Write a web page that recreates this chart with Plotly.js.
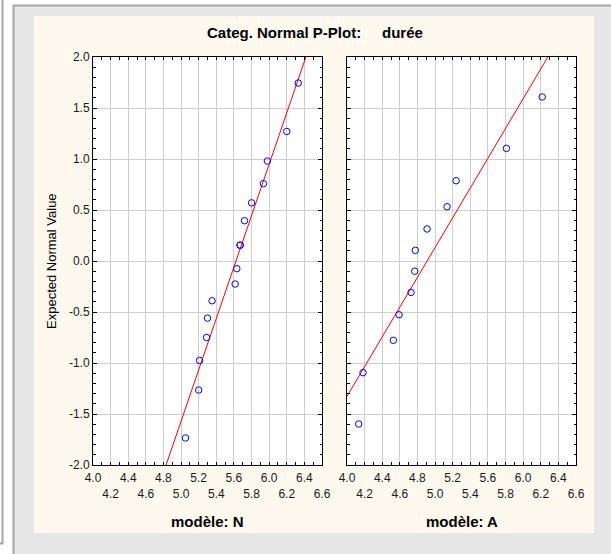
<!DOCTYPE html>
<html>
<head>
<meta charset="utf-8">
<script src="https://cdn.plot.ly/plotly-3.0.1.min.js"></script>
<style>html,body{margin:0;padding:0;background:#fff;}#chart{width:611px;height:554px;}</style>
</head>
<body>
<div id="chart"></div>
<script>
// ---- data ----
const titleText = "Categ. Normal P-Plot:\u00a0\u00a0\u00a0\u00a0\u00a0durée";
const panelLabels = ["modèle: N", "modèle: A"];
const yTitle = "Expected Normal Value";

// modèle: N  (observed value, expected normal value)
const nX = [6.33, 6.20, 5.98, 5.935, 5.80, 5.72, 5.67, 5.67, 5.633, 5.614, 5.352, 5.30, 5.29, 5.21, 5.20, 5.05];
const nY = [1.745, 1.27, 0.98, 0.758, 0.57, 0.395, 0.155, 0.155, -0.075, -0.226, -0.39, -0.56, -0.75, -0.975, -1.265, -1.735];
const nLineX = [4.83, 6.417];
const nLineY = [-2.0, 2.0];

// modèle: A
const aX = [6.216, 5.81, 5.239, 5.136, 4.909, 4.776, 4.769, 4.727, 4.591, 4.526, 4.182, 4.133];
const aY = [1.608, 1.104, 0.787, 0.532, 0.314, 0.104, -0.10, -0.308, -0.527, -0.778, -1.095, -1.598];
const aLineX = [4.0, 6.28];
const aLineY = [-1.327, 2.0];

// axis ticks
const xTickVals = [4.0, 4.2, 4.4, 4.6, 4.8, 5.0, 5.2, 5.4, 5.6, 5.8, 6.0, 6.2, 6.4, 6.6];
const xTickText = ["4.0", "<br>4.2", "4.4", "<br>4.6", "4.8", "<br>5.0", "5.2", "<br>5.4", "5.6", "<br>5.8", "6.0", "<br>6.2", "6.4", "<br>6.6"];
const yTickVals = [-2.0, -1.5, -1.0, -0.5, 0.0, 0.5, 1.0, 1.5, 2.0];
const yTickText = ["-2.0", "-1.5", "-1.0", "-0.5", "0.0", "0.5", "1.0", "1.5", "2.0"];

// ---- layout helpers (pixel -> paper) ----
const W = 611, H = 554;
const px = x => x / W;
const py = y => 1 - y / H;
const FONT = "Liberation Sans, Arial, sans-serif";

const markerStyle = {symbol: "circle-open", size: 6.5, color: "#0000ff", line: {width: 1, color: "#0000ff"}};
const lineStyle = {color: "#ff0000", width: 1};

const traces = [
  {x: nLineX, y: nLineY, type: "scatter", mode: "lines", line: lineStyle, xaxis: "x", yaxis: "y", hoverinfo: "skip"},
  {x: nX, y: nY, type: "scatter", mode: "markers", marker: markerStyle, xaxis: "x", yaxis: "y"},
  {x: aLineX, y: aLineY, type: "scatter", mode: "lines", line: lineStyle, xaxis: "x2", yaxis: "y2", hoverinfo: "skip"},
  {x: aX, y: aY, type: "scatter", mode: "markers", marker: markerStyle, xaxis: "x2", yaxis: "y2"}
];

function xAxis(domain, anchor) {
  return {
    domain: domain, anchor: anchor, range: [4.0, 6.6],
    tickmode: "array", tickvals: xTickVals, ticktext: xTickText, tickangle: 0, ticklabelstandoff: 2,
    ticks: "inside", ticklen: 3, tickcolor: "#000", tickwidth: 1,
    minor: {dtick: 0.1, tick0: 4.0, ticks: "inside", ticklen: 3, tickcolor: "#000", showgrid: false},
    showline: true, linecolor: "#000", linewidth: 1, mirror: "allticks",
    showgrid: true, gridcolor: "#cfcfcf", gridwidth: 1, zeroline: false,
    tickfont: {family: FONT, size: 12, color: "#1a1a1a"}, fixedrange: true
  };
}
function yAxis(domain, anchor, labels) {
  return {
    domain: domain, anchor: anchor, range: [-2.0, 2.0],
    tickmode: "array", tickvals: yTickVals, ticktext: yTickText, showticklabels: labels,
    ticks: "inside", ticklen: 4, tickcolor: "#000", tickwidth: 1,
    minor: {dtick: 0.1, tick0: 0, ticks: "inside", ticklen: 2.5, tickcolor: "#000", showgrid: false},
    showline: true, linecolor: "#000", linewidth: 1, mirror: "allticks",
    showgrid: true, gridcolor: "#cfcfcf", gridwidth: 1, zeroline: false,
    tickfont: {family: FONT, size: 12, color: "#1a1a1a"}, fixedrange: true
  };
}

const yDom = [py(465), py(57)];
const layout = {
  width: W, height: H,
  margin: {l: 0, r: 0, t: 0, b: 0, pad: 0},
  paper_bgcolor: "#ffffff", plot_bgcolor: "#ffffff",
  showlegend: false,
  xaxis: xAxis([px(93), px(322)], "y"),
  yaxis: yAxis(yDom, "x", true),
  xaxis2: xAxis([px(347), px(576)], "y2"),
  yaxis2: yAxis(yDom, "x2", false),
  shapes: [
    {type: "rect", xref: "paper", yref: "paper", x0: px(-10), x1: px(2.5), y0: py(-10), y1: py(543.5),
     fillcolor: "#ffffff", line: {color: "#a6a6a6", width: 2}, layer: "below"},
    {type: "rect", xref: "paper", yref: "paper", x0: px(13.5), x1: px(640), y0: py(5.5), y1: py(600),
     fillcolor: "#e7e7e7", line: {color: "#a6a6a6", width: 2}, layer: "below"},
    {type: "rect", xref: "paper", yref: "paper", x0: px(34), x1: px(594), y0: py(16), y1: py(533),
     fillcolor: "#fdf9ee", line: {width: 0}, layer: "below"},
    {type: "rect", xref: "x domain", yref: "y domain", x0: 0, x1: 1, y0: 0, y1: 1,
     fillcolor: "#ffffff", line: {width: 0}, layer: "below"},
    {type: "rect", xref: "x2 domain", yref: "y2 domain", x0: 0, x1: 1, y0: 0, y1: 1,
     fillcolor: "#ffffff", line: {width: 0}, layer: "below"}
  ],
  annotations: [
    {text: titleText, xref: "paper", yref: "paper", x: px(314.5), y: py(33), xanchor: "center", yanchor: "middle",
     showarrow: false, font: {family: FONT, size: 15, color: "#000", weight: "bold"}},
    {text: panelLabels[0], xref: "paper", yref: "paper", x: px(207.5), y: py(521), xanchor: "center", yanchor: "middle",
     showarrow: false, font: {family: FONT, size: 15, color: "#000", weight: "bold"}},
    {text: panelLabels[1], xref: "paper", yref: "paper", x: px(461.5), y: py(521), xanchor: "center", yanchor: "middle",
     showarrow: false, font: {family: FONT, size: 15, color: "#000", weight: "bold"}},
    {text: yTitle, xref: "paper", yref: "paper", x: px(51), y: py(261), xanchor: "center", yanchor: "middle",
     textangle: -90, showarrow: false, font: {family: FONT, size: 13, color: "#000"}}
  ]
};

Plotly.newPlot("chart", traces, layout, {staticPlot: true, displayModeBar: false});
</script>
</body>
</html>
